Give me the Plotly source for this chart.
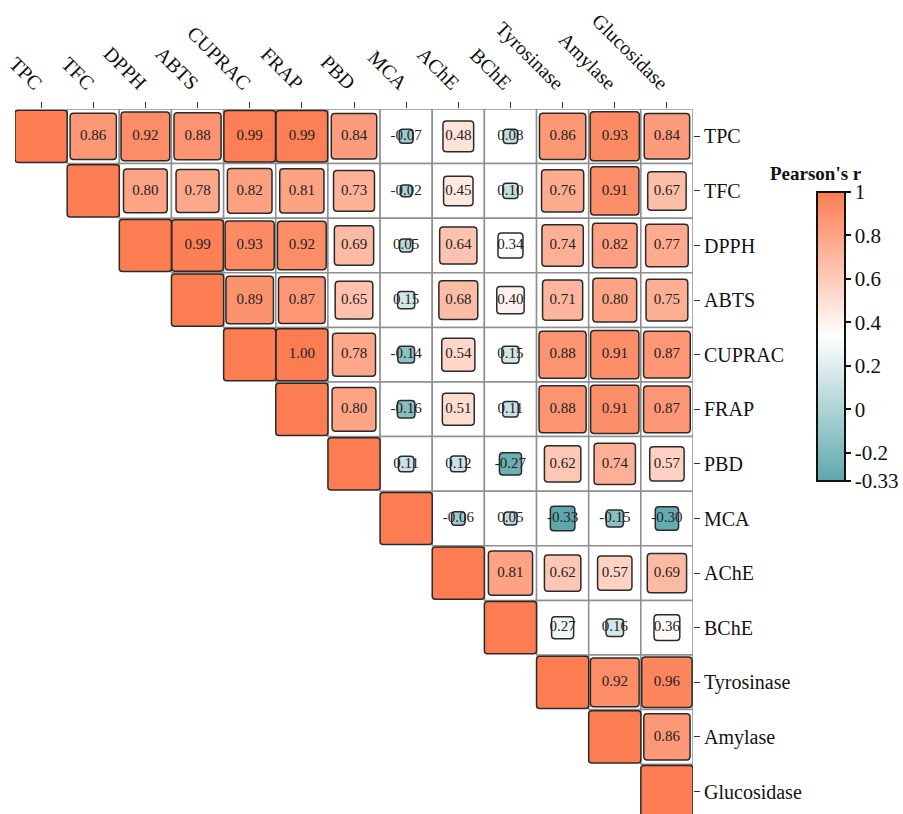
import plotly.graph_objects as go

# Variables (rows top-to-bottom, columns left-to-right)
variables = ["TPC", "TFC", "DPPH", "ABTS", "CUPRAC", "FRAP", "PBD", "MCA",
             "AChE", "BChE", "Tyrosinase", "Amylase", "Glucosidase"]

# Upper-triangle Pearson's r, one list per row (values right of the diagonal)
r_TPC = [0.86, 0.92, 0.88, 0.99, 0.99, 0.84, -0.07, 0.48, 0.08, 0.86, 0.93, 0.84]
r_TFC = [0.80, 0.78, 0.82, 0.81, 0.73, -0.02, 0.45, 0.10, 0.76, 0.91, 0.67]
r_DPPH = [0.99, 0.93, 0.92, 0.69, 0.05, 0.64, 0.34, 0.74, 0.82, 0.77]
r_ABTS = [0.89, 0.87, 0.65, 0.15, 0.68, 0.40, 0.71, 0.80, 0.75]
r_CUPRAC = [1.00, 0.78, -0.14, 0.54, 0.15, 0.88, 0.91, 0.87]
r_FRAP = [0.80, -0.16, 0.51, 0.11, 0.88, 0.91, 0.87]
r_PBD = [0.11, 0.12, -0.27, 0.62, 0.74, 0.57]
r_MCA = [-0.06, 0.05, -0.33, -0.15, -0.30]
r_AChE = [0.81, 0.62, 0.57, 0.69]
r_BChE = [0.27, 0.16, 0.36]
r_Tyrosinase = [0.92, 0.96]
r_Amylase = [0.86]
r_Glucosidase = []

rows = [r_TPC, r_TFC, r_DPPH, r_ABTS, r_CUPRAC, r_FRAP, r_PBD, r_MCA,
        r_AChE, r_BChE, r_Tyrosinase, r_Amylase, r_Glucosidase]

cbar_ticks = [-0.33, -0.2, 0, 0.2, 0.4, 0.6, 0.8, 1]
cbar_labels = ["-0.33", "-0.2", "0", "0.2", "0.4", "0.6", "0.8", "1"]

R_MIN, R_MAX = -0.33, 1.0
TEAL = (94, 168, 172)
WHITE = (255, 255, 255)
CORAL = (252, 125, 82)
colorscale = [[0.0, "rgb(94,168,172)"], [0.5, "rgb(255,255,255)"], [1.0, "rgb(252,125,82)"]]


def r_color(r):
    t = (r - R_MIN) / (R_MAX - R_MIN)
    t = min(max(t, 0), 1)
    if t < 0.5:
        a, b, f = TEAL, WHITE, t / 0.5
    else:
        a, b, f = WHITE, CORAL, (t - 0.5) / 0.5
    c = [round(a[k] + (b[k] - a[k]) * f) for k in range(3)]
    return f"rgb({c[0]},{c[1]},{c[2]})"


W, H = 903, 814
ML, MR, MT, MB = 15, 210, 109, 0
PW, PH = W - ML - MR, H - MT - MB
n = len(variables)
cell_w = PW / n
cell_h = 54.6
y_bottom = -0.5 + PH / cell_h


def rounded_rect(cx, cy, size_px, rad_px):
    hx = size_px / 2 / cell_w
    hy = size_px / 2 / cell_h
    rx = rad_px / cell_w
    ry = rad_px / cell_h
    x0, x1, y0, y1 = cx - hx, cx + hx, cy - hy, cy + hy
    return (f"M {x0 + rx},{y0} L {x1 - rx},{y0} Q {x1},{y0} {x1},{y0 + ry} "
            f"L {x1},{y1 - ry} Q {x1},{y1} {x1 - rx},{y1} "
            f"L {x0 + rx},{y1} Q {x0},{y1} {x0},{y1 - ry} "
            f"L {x0},{y0 + ry} Q {x0},{y0} {x0 + rx},{y0} Z")


shapes = []
tx, ty, tt, tc = [], [], [], []

# White background cells with grey borders for the upper triangle
for i in range(n):
    for j in range(i + 1, n):
        shapes.append(dict(type="rect", xref="x", yref="y", layer="below",
                           x0=j - 0.5, x1=j + 0.5, y0=i - 0.5, y1=i + 0.5,
                           fillcolor="white", line=dict(color="#8e8e8e", width=1.5)))

# Coloured squares sized by |r|
for i, vals in enumerate(rows):
    for k, r in enumerate(vals):
        j = i + 1 + k
        size = 11 + 41 * abs(r)
        shapes.append(dict(type="path", xref="x", yref="y", layer="below",
                           path=rounded_rect(j, i, size, 3.5),
                           fillcolor=r_color(r), line=dict(color="#2a2a2a", width=1.5)))
        tx.append(j)
        ty.append(i)
        tt.append(f"{r:.2f}")
        tc.append(r)

# Diagonal squares
for i in range(n):
    shapes.append(dict(type="path", xref="x", yref="y", layer="below",
                       path=rounded_rect(i, i, cell_w, 3),
                       fillcolor=r_color(1.0), line=dict(color="#2a2a2a", width=1.5)))

fig = go.Figure()

# Colour bar: centre at 336.5 px from the top, left edge at 817 px
fig.add_trace(go.Scatter(
    x=tx, y=ty, mode="markers",
    marker=dict(color=tc, colorscale=colorscale, cmin=R_MIN, cmax=R_MAX, opacity=0, size=1,
                showscale=True,
                colorbar=dict(
                    x=(817 - ML) / PW, xanchor="left",
                    y=(H - 336.5 - MB) / PH, yanchor="middle",
                    thickness=28, thicknessmode="pixels",
                    len=289, lenmode="pixels",
                    outlinewidth=2, outlinecolor="#111",
                    xpad=0, ypad=0,
                    ticks="outside", ticklen=5, tickwidth=1.5, tickcolor="#111",
                    tickvals=cbar_ticks, ticktext=cbar_labels,
                    tickfont=dict(family="Liberation Serif", size=21, color="#111"),
                )),
    hoverinfo="skip", showlegend=False,
))

fig.add_trace(go.Scatter(
    x=tx, y=ty, mode="text", text=tt,
    textfont=dict(family="Liberation Serif", size=15, color="#222"),
    hoverinfo="skip", showlegend=False,
))

fig.add_annotation(
    text="<b>Pearson's r</b>", xref="paper", yref="paper",
    x=(816 - ML) / PW, y=1 + (MT - 173) / PH,
    showarrow=False, xanchor="center", yanchor="middle",
    font=dict(family="Liberation Serif", size=19, color="#111"),
)

fig.update_layout(
    width=W, height=H,
    margin=dict(l=ML, r=MR, t=MT, b=MB, pad=0),
    paper_bgcolor="white", plot_bgcolor="white",
    shapes=shapes,
    xaxis=dict(side="top", range=[-0.5, n - 0.5], tickvals=list(range(n)), ticktext=variables,
               tickangle=45, ticks="outside", ticklen=6, tickwidth=1.2, tickcolor="#333",
               showgrid=False, zeroline=False, showline=False,
               tickfont=dict(family="Liberation Serif", size=20, color="#111")),
    yaxis=dict(side="right", range=[y_bottom, -0.5], tickvals=list(range(n)), ticktext=variables,
               ticks="outside", ticklen=6, tickwidth=1.2, tickcolor="#333",
               showgrid=False, zeroline=False, showline=False,
               tickfont=dict(family="Liberation Serif", size=20, color="#111")),
)

fig.write_html("out.html")
